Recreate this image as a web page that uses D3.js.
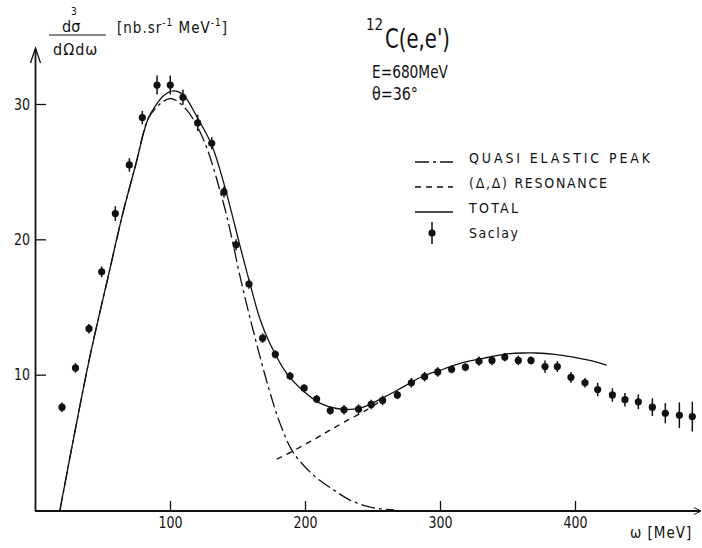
<!DOCTYPE html>
<html>
<head>
<meta charset="utf-8">
<script src="https://cdn.jsdelivr.net/npm/d3@7"></script>
<style>
  body { margin: 0; background: #fff; }
  svg { display: block; }
  text { font-family: "Liberation Sans Narrow", "DejaVu Sans Condensed", "Liberation Sans", sans-serif; fill: #111; }
</style>
</head>
<body>
<svg id="chart" width="702" height="548"></svg>
<script>
// measured points (Saclay)
var omega = [20, 30, 40, 49.4, 59.5, 69.9, 79.5, 90.4, 100.2, 109.6, 120.5, 130.9, 140, 148.9, 158.5, 168.6,
  178, 188.9, 199.3, 208.6, 218.7, 228.9, 239.7, 249, 257.5, 268.4, 278.8, 288.6, 298.3, 308.6, 318.8,
  328.9, 338.5, 348, 358, 367.4, 377.8, 386.9, 397, 407.4, 416.8, 427.7, 437, 446.9, 457.3, 466.9, 477.3, 486.9];
var sigma = [7.6, 10.5, 13.4, 17.6, 21.9, 25.5, 29.0, 31.4, 31.4, 30.5, 28.6, 27.1, 23.5, 19.6, 16.7, 12.7,
  11.5, 9.9, 9.0, 8.2, 7.35, 7.4, 7.45, 7.8, 8.1, 8.5, 9.4, 9.85, 10.2, 10.4, 10.55,
  11.0, 11.05, 11.3, 11.05, 11.05, 10.6, 10.6, 9.8, 9.4, 8.9, 8.5, 8.15, 8.0, 7.6, 7.15, 7.0, 6.9];
var sigmaErr = [0.35, 0.35, 0.35, 0.4, 0.55, 0.5, 0.5, 0.7, 0.7, 0.55, 0.6, 0.45, 0.4, 0.4, 0.35, 0.35,
  0.3, 0.3, 0.3, 0.3, 0.3, 0.35, 0.35, 0.35, 0.35, 0.3, 0.35, 0.35, 0.35, 0.3, 0.3,
  0.35, 0.35, 0.3, 0.35, 0.3, 0.45, 0.4, 0.4, 0.35, 0.5, 0.5, 0.5, 0.55, 0.65, 0.75, 0.95, 1.1];

// total curve
var totOmega = [18.5, 28.4, 40.7, 55, 65, 74.3, 83.7, 89.5, 95, 102.5, 109.9, 120.5, 130.9, 140, 151.9,
  159.3, 166.7, 174, 186.4, 198.8, 211, 223.5, 235.8, 243.2, 258, 272.8, 287.6, 302.4, 317.3, 332,
  346.9, 361.7, 371.6, 385, 398.8, 411, 423.5];
var totSigma = [0, 5.2, 11.35, 17.6, 21.9, 25.4, 28.9, 29.9, 30.6, 30.97, 30.67, 28.95, 26.97, 24.1, 19.5,
  16.7, 14.1, 12.3, 10.1, 8.8, 7.9, 7.5, 7.45, 7.6, 8.3, 9.1, 9.9, 10.4, 10.9, 11.2,
  11.5, 11.6, 11.6, 11.5, 11.3, 11.05, 10.7];

// quasi elastic peak
var qeOmega = [18.5, 28.4, 40.7, 55, 65, 74.3, 83.7, 89.5, 95, 101.2, 112, 124.7, 139.5, 146, 152,
  160, 167, 174, 181.5, 191, 206, 221, 233, 245, 256, 266];
var qeSigma = [0, 5.2, 11.35, 17.6, 21.9, 25.4, 28.9, 29.7, 30.2, 30.4, 29.6, 27.4, 22.7, 20.0, 17.2,
  13.9, 11.2, 8.7, 6.4, 4.3, 2.6, 1.5, 0.75, 0.3, 0.08, 0];

// (delta,delta) resonance
var resOmega = [179, 190, 200, 210, 218.5, 230, 245.7, 258];
var resSigma = [3.75, 4.3, 4.85, 5.4, 5.9, 6.55, 7.4, 8.2];

var xTicks = [100, 200, 300, 400];
var yTicks = [10, 20, 30];

var legendLabels = ["QUASI ELASTIC PEAK", "(\u0394,\u0394) RESONANCE", "TOTAL", "Saclay"];
var legendDash = ["14,4,3,4", "6,5", null, "point"];
var legendWidths = [181, 138, 49, 49];

var svg = d3.select("#chart");
svg.append("rect").attr("width", 702).attr("height", 548).attr("fill", "#fff");

var x = d3.scaleLinear().domain([0, 400]).range([35, 575]);
var y = d3.scaleLinear().domain([0, 30]).range([510, 104]);
var xEnd = x.invert(700);

// axes
var gx = svg.append("g").attr("transform", "translate(0,511)")
  .call(d3.axisBottom(x).tickValues(xTicks).tickSize(-10).tickPadding(6).tickFormat(d3.format("d")));
gx.select(".domain").remove();
gx.selectAll("line").attr("stroke", "#111").attr("stroke-width", 1.3);
gx.selectAll("text").attr("font-size", 16).style("font-family", null)
  .attr("textLength", 24).attr("lengthAdjust", "spacingAndGlyphs");

var gy = svg.append("g").attr("transform", "translate(35,0)")
  .call(d3.axisLeft(y).tickValues(yTicks).tickSize(-11).tickPadding(5).tickFormat(d3.format("d")));
gy.select(".domain").remove();
gy.selectAll("line").attr("stroke", "#111").attr("stroke-width", 1.3);
gy.selectAll("text").attr("font-size", 16).style("font-family", null)
  .attr("textLength", 16).attr("lengthAdjust", "spacingAndGlyphs");

svg.append("line").attr("x1", x(0)).attr("x2", x(xEnd)).attr("y1", 511).attr("y2", 511)
  .attr("stroke", "#111").attr("stroke-width", 1.8);
svg.append("path").attr("d", "M694,507.5L701,511L694,514.5").attr("fill", "none").attr("stroke", "#111").attr("stroke-width", 1);
svg.append("line").attr("x1", 35.5).attr("x2", 35.5).attr("y1", 511).attr("y2", 49)
  .attr("stroke", "#111").attr("stroke-width", 1.8);
svg.append("path").attr("d", "M30.5,63L35.5,48L40.5,63").attr("fill", "none").attr("stroke", "#111").attr("stroke-width", 1.3);

// curves
var line = d3.line()
  .x(function(d) { return x(d[0]); })
  .y(function(d) { return y(d[1]); })
  .curve(d3.curveCatmullRom.alpha(0.5));

function curve(xs, ys, dash) {
  svg.append("path")
    .datum(d3.zip(xs, ys))
    .attr("d", line)
    .attr("fill", "none")
    .attr("stroke", "#111")
    .attr("stroke-width", 1.3)
    .attr("stroke-dasharray", dash);
}
curve(qeOmega, qeSigma, "14,4,3,4");
curve(resOmega, resSigma, "6,5");
curve(totOmega, totSigma, null);

// data points
var pts = svg.append("g").selectAll("g")
  .data(d3.range(omega.length))
  .enter().append("g");
pts.append("line")
  .attr("x1", function(i) { return x(omega[i]); })
  .attr("x2", function(i) { return x(omega[i]); })
  .attr("y1", function(i) { return y(sigma[i] - sigmaErr[i]); })
  .attr("y2", function(i) { return y(sigma[i] + sigmaErr[i]); })
  .attr("stroke", "#111").attr("stroke-width", 1.5);
pts.append("circle")
  .attr("cx", function(i) { return x(omega[i]); })
  .attr("cy", function(i) { return y(sigma[i]); })
  .attr("r", 3.6)
  .attr("fill", "#111");

// legend
var lg = svg.append("g");
legendLabels.forEach(function(lab, i) {
  var base = 163 + i * 25;
  if (legendDash[i] === "point") {
    lg.append("line").attr("x1", 432).attr("x2", 432).attr("y1", base - 16).attr("y2", base + 6)
      .attr("stroke", "#111").attr("stroke-width", 1.5);
    lg.append("circle").attr("cx", 432).attr("cy", base - 5).attr("r", 3.6).attr("fill", "#111");
  } else {
    lg.append("line").attr("x1", 415).attr("x2", 453).attr("y1", base - 1).attr("y2", base - 1)
      .attr("stroke", "#111").attr("stroke-width", 1.3)
      .attr("stroke-dasharray", legendDash[i]);
  }
  lg.append("text").attr("x", 469).attr("y", base).attr("font-size", 14)
    .attr("textLength", legendWidths[i]).attr("lengthAdjust", "spacing").text(lab);
});

// y label
svg.append("line").attr("x1", 49).attr("x2", 106).attr("y1", 35).attr("y2", 35)
  .attr("stroke", "#111").attr("stroke-width", 1.2);
svg.append("text").attr("x", 62).attr("y", 32).attr("font-size", 16).text("d\u03c3");
svg.append("text").attr("x", 71).attr("y", 15).attr("font-size", 10).text("3");
svg.append("text").attr("x", 53).attr("y", 55).attr("font-size", 16).attr("letter-spacing", 1).text("d\u03a9d\u03c9");
var un = svg.append("text").attr("x", 117).attr("y", 33).attr("font-size", 15).attr("letter-spacing", 1);
un.append("tspan").text("[nb.sr");
un.append("tspan").attr("font-size", 10).attr("dy", -7).text("-1");
un.append("tspan").attr("dy", 7).text(" MeV");
un.append("tspan").attr("font-size", 10).attr("dy", -7).text("-1");
un.append("tspan").attr("dy", 7).text("]");

// x label
svg.append("text").attr("x", 630).attr("y", 538).attr("font-size", 15).attr("letter-spacing", 1).text("\u03c9 [MeV]");

// title
svg.append("text").attr("x", 366).attr("y", 30).attr("font-size", 15).text("12");
svg.append("text").attr("x", 385).attr("y", 48).attr("font-size", 27)
  .attr("textLength", 65).attr("lengthAdjust", "spacingAndGlyphs").text("C(e,e')");
svg.append("text").attr("x", 372).attr("y", 78).attr("font-size", 17)
  .attr("textLength", 76).attr("lengthAdjust", "spacingAndGlyphs").text("E=680MeV");
svg.append("text").attr("x", 372).attr("y", 100).attr("font-size", 17)
  .attr("textLength", 46).attr("lengthAdjust", "spacingAndGlyphs").text("\u03b8=36\u00b0");
</script>
</body>
</html>
